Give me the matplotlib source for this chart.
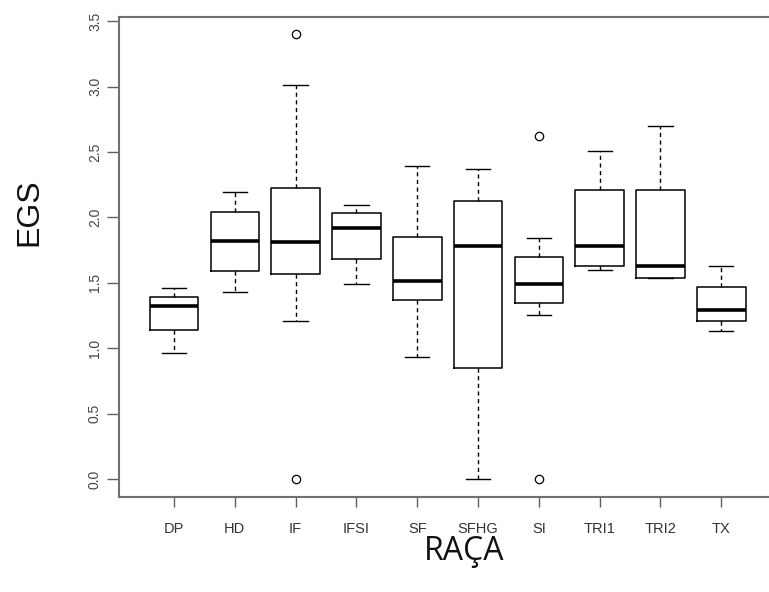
import matplotlib
matplotlib.use("Agg")
import matplotlib.pyplot as plt

categories = ["DP", "HD", "IF", "IFSI", "SF", "SFHG", "SI", "TRI1", "TRI2", "TX"]
whisker_low = [0.964, 1.428, 1.211, 1.494, 0.933, 0.0, 1.257, 1.601, 1.538, 1.129]
q1 = [1.142, 1.588, 1.568, 1.686, 1.372, 0.849, 1.347, 1.627, 1.538, 1.206]
median = [1.321, 1.818, 1.813, 1.920, 1.517, 1.785, 1.492, 1.785, 1.627, 1.295]
q3 = [1.393, 2.045, 2.226, 2.035, 1.852, 2.124, 1.695, 2.213, 2.208, 1.469]
whisker_high = [1.461, 2.193, 3.017, 2.093, 2.397, 2.372, 1.844, 2.512, 2.703, 1.632]
outliers = [[], [], [3.405, 0.0], [], [], [], [2.621, 0.0], [], [], []]

plt.rcParams['font.family'] = ['Liberation Sans', 'DejaVu Sans']

fig = plt.figure(figsize=(7.69, 5.92), dpi=100)
ax = fig.add_axes([119.3 / 769, 1 - 496.7 / 592, (776 - 119.3) / 769, (496.7 - 16.7) / 592])

stats = []
for i, name in enumerate(categories):
    stats.append(dict(label=name, whislo=whisker_low[i], q1=q1[i], med=median[i],
                      q3=q3[i], whishi=whisker_high[i], fliers=outliers[i]))

positions = list(range(1, len(categories) + 1))
ax.bxp(stats, positions=positions, widths=0.8, showfliers=True,
       boxprops=dict(color='black', linewidth=1.1),
       medianprops=dict(color='black', linewidth=2.6, solid_capstyle='butt'),
       whiskerprops=dict(color='black', linewidth=1.0, linestyle=(0, (3, 2.5))),
       capprops=dict(color='black', linewidth=1.0),
       capwidths=0.4,
       flierprops=dict(marker='o', markerfacecolor='none', markeredgecolor='black',
                       markersize=6, markeredgewidth=0.9))

ax.set_xlim(0.1, 10.9)
ax.set_ylim(-0.136, 3.536)
ax.set_xticks(positions)
ax.set_xticklabels(categories)
ax.set_yticks([0.0, 0.5, 1.0, 1.5, 2.0, 2.5, 3.0, 3.5])
ax.set_yticklabels(["0.0", "0.5", "1.0", "1.5", "2.0", "2.5", "3.0", "3.5"])

for side in ['left', 'top', 'bottom']:
    ax.spines[side].set_color('#707070')
    ax.spines[side].set_linewidth(1.5)
ax.spines['right'].set_visible(False)

ax.tick_params(axis='x', length=7.5, width=1.0, color='#606060', labelsize=10.5,
               labelcolor='#333333', pad=11)
ax.tick_params(axis='y', length=8.5, width=1.0, color='#606060', labelsize=10,
               labelcolor='#444444', pad=4, labelrotation=90)
for lab in ax.get_yticklabels():
    lab.set_verticalalignment('center')

fig.text(464 / 769, 1 - 552 / 592, "RAÇA", fontsize=23, ha='center', va='center',
         color='#111111', family=['Open Sans', 'DejaVu Sans'])
fig.text(29 / 769, 1 - 212 / 592, "EGS", fontsize=23, ha='center', va='center',
         rotation=90, color='#111111')

fig.savefig("out.png", dpi=100)
